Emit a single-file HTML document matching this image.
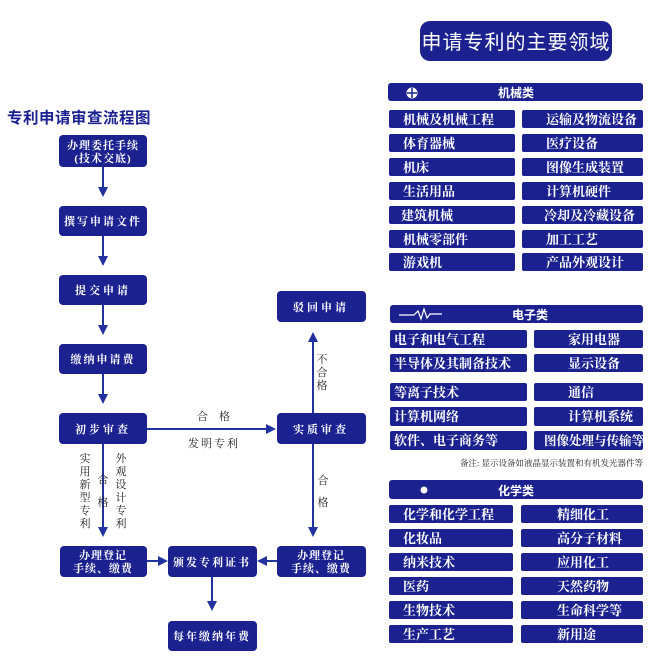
<!DOCTYPE html>
<html><head><meta charset="utf-8"><style>
html,body{margin:0;padding:0;background:#fff;}
svg{display:block;}
</style></head><body>
<svg width="650" height="667" viewBox="0 0 650 667" xmlns="http://www.w3.org/2000/svg">
<defs>
<style>
.b{fill:#1b2290;}
.w{fill:#fff;font-family:"Liberation Serif","Noto Serif CJK SC",serif;font-size:11px;font-weight:bold;}
.r{fill:#fff;font-family:"Liberation Serif","Noto Serif CJK SC",serif;font-size:13px;font-weight:bold;}
.h{fill:#fff;font-family:"Liberation Sans","Noto Sans CJK SC",sans-serif;font-size:12px;font-weight:bold;}
.k{fill:#222;font-family:"Liberation Serif","Noto Serif CJK SC",serif;font-size:11px;}
.ln{stroke:#2233a0;stroke-width:2;fill:none;}
.ah{fill:#2233a0;}
</style>
</defs>
<text x="7" y="123" style="font-family:'Liberation Sans','Noto Sans CJK SC',sans-serif;font-size:15.5px;font-weight:bold;fill:#1b2290;letter-spacing:0.5px">专利申请审查流程图</text>

<rect class="b" x="59" y="135" width="88" height="32" rx="4"/>
<text class="w" x="103" y="149" text-anchor="middle" letter-spacing="1">办理委托手续</text>
<text class="w" x="103" y="162" text-anchor="middle" letter-spacing="1">(技术交底)</text>
<rect class="b" x="59" y="206" width="88" height="30" rx="4"/>
<text class="w" x="103" y="225" text-anchor="middle" letter-spacing="2">撰写申请文件</text>
<rect class="b" x="59" y="275" width="88" height="30" rx="4"/>
<text class="w" x="103" y="294" text-anchor="middle" letter-spacing="3">提交申请</text>
<rect class="b" x="59" y="344" width="88" height="30" rx="4"/>
<text class="w" x="103" y="363" text-anchor="middle" letter-spacing="2">缴纳申请费</text>
<rect class="b" x="59" y="413" width="88" height="31" rx="4"/>
<text class="w" x="103" y="433" text-anchor="middle" letter-spacing="3">初步审查</text>
<rect class="b" x="277" y="413" width="89" height="31" rx="4"/>
<text class="w" x="321" y="433" text-anchor="middle" letter-spacing="3">实质审查</text>
<rect class="b" x="277" y="291" width="89" height="31" rx="4"/>
<text class="w" x="321" y="311" text-anchor="middle" letter-spacing="3">驳回申请</text>
<rect class="b" x="60" y="546" width="87" height="31" rx="4"/>
<text class="w" x="103" y="559" text-anchor="middle" letter-spacing="1">办理登记</text>
<text class="w" x="103" y="572" text-anchor="middle" letter-spacing="1">手续、缴费</text>
<rect class="b" x="168" y="546" width="89" height="31" rx="4"/>
<text class="w" x="212" y="566" text-anchor="middle" letter-spacing="2">颁发专利证书</text>
<rect class="b" x="277" y="546" width="89" height="31" rx="4"/>
<text class="w" x="321" y="559" text-anchor="middle" letter-spacing="1">办理登记</text>
<text class="w" x="321" y="572" text-anchor="middle" letter-spacing="1">手续、缴费</text>
<rect class="b" x="168" y="621" width="89" height="30" rx="4"/>
<text class="w" x="212" y="640" text-anchor="middle" letter-spacing="2">每年缴纳年费</text>

<line class="ln" x1="103" y1="167" x2="103" y2="190"/><polygon class="ah" points="98,187 108,187 103,197"/>
<line class="ln" x1="103" y1="236" x2="103" y2="259"/><polygon class="ah" points="98,256 108,256 103,266"/>
<line class="ln" x1="103" y1="305" x2="103" y2="328"/><polygon class="ah" points="98,325 108,325 103,335"/>
<line class="ln" x1="103" y1="374" x2="103" y2="397"/><polygon class="ah" points="98,394 108,394 103,404"/>
<line class="ln" x1="103" y1="444" x2="103" y2="530"/><polygon class="ah" points="98,527 108,527 103,537"/>
<line class="ln" x1="147" y1="429" x2="268" y2="429"/><polygon class="ah" points="266,424 266,434 276,429"/>
<line class="ln" x1="313" y1="413" x2="313" y2="340"/><polygon class="ah" points="308,342 318,342 313,332"/>
<line class="ln" x1="313" y1="444" x2="313" y2="530"/><polygon class="ah" points="308,527 318,527 313,537"/>
<line class="ln" x1="147" y1="561" x2="160" y2="561"/><polygon class="ah" points="158,556 158,566 168,561"/>
<line class="ln" x1="277" y1="561" x2="265" y2="561"/><polygon class="ah" points="267,556 267,566 257,561"/>
<line class="ln" x1="212" y1="577" x2="212" y2="604"/><polygon class="ah" points="207,601 217,601 212,611"/>

<text class="k" x="197" y="420">合</text><text class="k" x="219" y="420">格</text>
<text class="k" x="188" y="447" letter-spacing="2">发明专利</text>
<text class="k" x="322" y="363" text-anchor="middle">不</text>
<text class="k" x="322" y="376" text-anchor="middle">合</text>
<text class="k" x="322" y="389" text-anchor="middle">格</text>
<text class="k" x="323" y="484" text-anchor="middle">合</text>
<text class="k" x="323" y="506" text-anchor="middle">格</text>
<g text-anchor="middle">
<text class="k" x="85" y="462">实</text><text class="k" x="85" y="475">用</text><text class="k" x="85" y="488">新</text><text class="k" x="85" y="501">型</text><text class="k" x="85" y="514">专</text><text class="k" x="85" y="527">利</text>
<text class="k" x="121" y="462">外</text><text class="k" x="121" y="475">观</text><text class="k" x="121" y="488">设</text><text class="k" x="121" y="501">计</text><text class="k" x="121" y="514">专</text><text class="k" x="121" y="527">利</text>
<text class="k" x="103" y="483">合</text><text class="k" x="103" y="506">格</text>
</g>

<rect class="b" x="420" y="21" width="192" height="40" rx="10"/>
<text x="516" y="49" text-anchor="middle" style="fill:#fff;font-family:'Liberation Sans','Noto Sans CJK SC',sans-serif;font-size:20px;letter-spacing:1px">申请专利的主要领域</text>

<rect class="b" x="388" y="83" width="255" height="18" rx="3"/>
<circle cx="412" cy="93" r="5.5" fill="#fff"/>
<line x1="412" y1="88" x2="412" y2="98" stroke="#1b2290" stroke-width="1.5"/>
<line x1="407" y1="93" x2="417" y2="93" stroke="#1b2290" stroke-width="1.5"/>
<text class="h" x="516" y="97" text-anchor="middle">机械类</text>
<g>
<rect class="b" x="389" y="110" width="126" height="18" rx="2"/><rect class="b" x="522" y="110" width="121" height="18" rx="2"/>
<rect class="b" x="389" y="134" width="126" height="18" rx="2"/><rect class="b" x="522" y="134" width="121" height="18" rx="2"/>
<rect class="b" x="389" y="158" width="126" height="18" rx="2"/><rect class="b" x="522" y="158" width="121" height="18" rx="2"/>
<rect class="b" x="389" y="182" width="126" height="18" rx="2"/><rect class="b" x="522" y="182" width="121" height="18" rx="2"/>
<rect class="b" x="389" y="206" width="126" height="18" rx="2"/><rect class="b" x="522" y="206" width="121" height="18" rx="2"/>
<rect class="b" x="389" y="230" width="126" height="18" rx="2"/><rect class="b" x="522" y="230" width="121" height="18" rx="2"/>
<rect class="b" x="389" y="253" width="126" height="18" rx="2"/><rect class="b" x="522" y="253" width="121" height="18" rx="2"/>
</g>
<text class="r" x="403" y="124">机械及机械工程</text><text class="r" x="546" y="124">运输及物流设备</text>
<text class="r" x="403" y="148">体育器械</text><text class="r" x="546" y="148">医疗设备</text>
<text class="r" x="403" y="172">机床</text><text class="r" x="546" y="172">图像生成装置</text>
<text class="r" x="403" y="196">生活用品</text><text class="r" x="546" y="196">计算机硬件</text>
<text class="r" x="401" y="220">建筑机械</text><text class="r" x="544" y="220">冷却及冷藏设备</text>
<text class="r" x="403" y="244">机械零部件</text><text class="r" x="546" y="244">加工工艺</text>
<text class="r" x="403" y="267">游戏机</text><text class="r" x="546" y="267">产品外观设计</text>

<rect class="b" x="390" y="305" width="253" height="18" rx="3"/>
<polyline points="399,315 414,315 418,311 421,319 424,309 427,318 430,314 442,314" stroke="#fff" stroke-width="1.2" fill="none"/>
<text class="h" x="530" y="319" text-anchor="middle">电子类</text>
<rect class="b" x="390" y="330" width="137" height="18" rx="2"/><rect class="b" x="534" y="330" width="109" height="18" rx="2"/>
<rect class="b" x="390" y="354" width="137" height="18" rx="2"/><rect class="b" x="534" y="354" width="109" height="18" rx="2"/>
<rect class="b" x="390" y="383" width="137" height="18" rx="2"/><rect class="b" x="534" y="383" width="109" height="18" rx="2"/>
<rect class="b" x="390" y="407" width="137" height="19" rx="2"/><rect class="b" x="534" y="407" width="109" height="19" rx="2"/>
<rect class="b" x="390" y="431" width="137" height="19" rx="2"/><rect class="b" x="534" y="431" width="109" height="19" rx="2"/>
<text class="r" x="394" y="344">电子和电气工程</text><text class="r" x="568" y="344">家用电器</text>
<text class="r" x="394" y="368">半导体及其制备技术</text><text class="r" x="568" y="368">显示设备</text>
<text class="r" x="394" y="397">等离子技术</text><text class="r" x="568" y="397">通信</text>
<text class="r" x="394" y="421">计算机网络</text><text class="r" x="568" y="421">计算机系统</text>
<text class="r" x="394" y="445">软件、电子商务等</text><text class="r" x="544" y="445" style="font-size:12.5px">图像处理与传输等</text>
<text x="643" y="466" text-anchor="end" style="fill:#222;font-family:'Liberation Serif','Noto Serif CJK SC',serif;font-size:8.5px">备注: 显示设备如液晶显示装置和有机发光器件等</text>

<rect class="b" x="389" y="480" width="254" height="19" rx="3"/>
<circle cx="424" cy="490" r="3.5" fill="#fff"/>
<text class="h" x="516" y="495" text-anchor="middle">化学类</text>
<rect class="b" x="389" y="505" width="124" height="18" rx="2"/><rect class="b" x="521" y="505" width="122" height="18" rx="2"/>
<rect class="b" x="389" y="529" width="124" height="18" rx="2"/><rect class="b" x="521" y="529" width="122" height="18" rx="2"/>
<rect class="b" x="389" y="553" width="124" height="18" rx="2"/><rect class="b" x="521" y="553" width="122" height="18" rx="2"/>
<rect class="b" x="389" y="577" width="124" height="18" rx="2"/><rect class="b" x="521" y="577" width="122" height="18" rx="2"/>
<rect class="b" x="389" y="601" width="124" height="18" rx="2"/><rect class="b" x="521" y="601" width="122" height="18" rx="2"/>
<rect class="b" x="389" y="625" width="124" height="18" rx="2"/><rect class="b" x="521" y="625" width="122" height="18" rx="2"/>
<text class="r" x="403" y="519">化学和化学工程</text><text class="r" x="557" y="519">精细化工</text>
<text class="r" x="403" y="543">化妆品</text><text class="r" x="557" y="543">高分子材料</text>
<text class="r" x="403" y="567">纳米技术</text><text class="r" x="557" y="567">应用化工</text>
<text class="r" x="403" y="591">医药</text><text class="r" x="557" y="591">天然药物</text>
<text class="r" x="403" y="615">生物技术</text><text class="r" x="557" y="615">生命科学等</text>
<text class="r" x="403" y="639">生产工艺</text><text class="r" x="557" y="639">新用途</text>
</svg>
</body></html>
